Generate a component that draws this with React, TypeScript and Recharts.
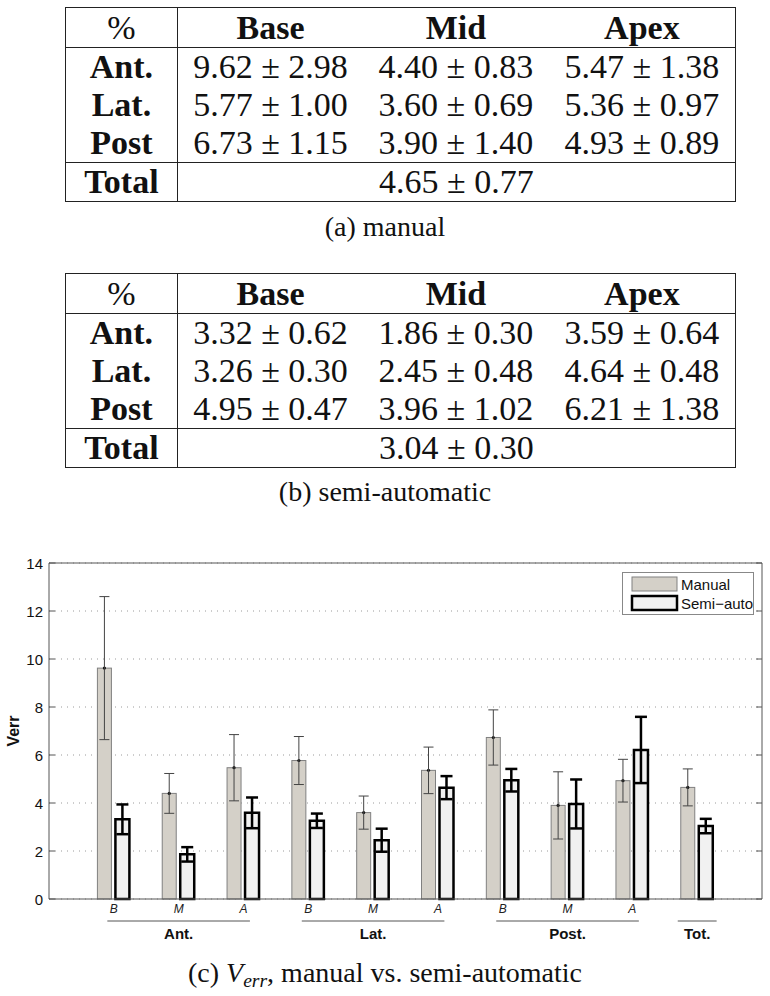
import React from 'react'
import { BarChart, Bar, XAxis, YAxis, CartesianGrid, ErrorBar, Legend } from 'recharts'

// values in chart order: Ant B/M/A, Lat B/M/A, Post B/M/A, Total
const categories = ['Ant. B', 'Ant. M', 'Ant. A', 'Lat. B', 'Lat. M', 'Lat. A', 'Post. B', 'Post. M', 'Post. A', 'Tot.']
const subLabels = ['B', 'M', 'A', 'B', 'M', 'A', 'B', 'M', 'A', '']
const groupLabels = ['Ant.', 'Lat.', 'Post.', 'Tot.']
const groupMiddle = [1, 4, 7, 9]
const groupSize = [3, 3, 3, 1]

const manualMean = [9.62, 4.40, 5.47, 5.77, 3.60, 5.36, 6.73, 3.90, 4.93, 4.65]
const manualSd = [2.98, 0.83, 1.38, 1.00, 0.69, 0.97, 1.15, 1.40, 0.89, 0.77]
const semiMean = [3.32, 1.86, 3.59, 3.26, 2.45, 4.64, 4.95, 3.96, 6.21, 3.04]
const semiSd = [0.62, 0.30, 0.64, 0.30, 0.48, 0.48, 0.47, 1.02, 1.38, 0.30]

const regions = ['Ant.', 'Lat.', 'Post']
const levels = ['Base', 'Mid', 'Apex']
const yTicks = [0, 2, 4, 6, 8, 10, 12, 14]

const SERIF = '"Liberation Serif", "Times New Roman", serif'
const SANS = '"Liberation Sans", Arial, sans-serif'

const CHART_W = 770
const CHART_H = 419
const MARGIN = { top: 22, right: 7, left: 0, bottom: 0 }
const Y_W = 49
const PLOT_W = CHART_W - MARGIN.left - MARGIN.right - Y_W - 1
const BAND = PLOT_W / (categories.length + 1)

const seriesStyle: Record<string, { fill: string; stroke: string; strokeWidth: number }> = {
  manual: { fill: '#d4d0c8', stroke: '#808080', strokeWidth: 1 },
  semi: { fill: '#f1f1f1', stroke: '#000', strokeWidth: 2.5 },
}

const data = categories.map((cat, i) => ({
  cat,
  manual: manualMean[i],
  manualErr: manualSd[i],
  semi: semiMean[i],
  semiErr: semiSd[i],
}))

const fmt = (m: number, s: number) => `${m.toFixed(2)} \u00B1 ${s.toFixed(2)}`

const border = '1.5px solid #222'

function StatsTable({ mean, sd, top }: { mean: number[]; sd: number[]; top: number }) {
  const cell: React.CSSProperties = { padding: 0, textAlign: 'center', lineHeight: 1 }
  return (
    <table
      style={{
        position: 'absolute', left: 65, top, width: 671, borderCollapse: 'collapse',
        border, fontFamily: SERIF, fontSize: 34, color: '#111',
      }}
    >
      <colgroup>
        <col style={{ width: 112 }} />
        <col style={{ width: 186 }} />
        <col style={{ width: 186 }} />
        <col style={{ width: 187 }} />
      </colgroup>
      <tbody>
        <tr style={{ height: 40, borderBottom: border }}>
          <td style={{ ...cell, borderRight: border }}>%</td>
          {levels.map(l => (
            <td key={l} style={{ ...cell, fontWeight: 'bold' }}>{l}</td>
          ))}
        </tr>
        {regions.map((r, ri) => (
          <tr key={r} style={{ height: ri === 2 ? 39 : 38 }}>
            <td style={{ ...cell, fontWeight: 'bold', borderRight: border }}>{r}</td>
            {levels.map((l, ci) => (
              <td key={l} style={cell}>{fmt(mean[ri * 3 + ci], sd[ri * 3 + ci])}</td>
            ))}
          </tr>
        ))}
        <tr style={{ height: 39, borderTop: border }}>
          <td style={{ ...cell, fontWeight: 'bold', borderRight: border }}>Total</td>
          <td colSpan={3} style={cell}>{fmt(mean[9], sd[9])}</td>
        </tr>
      </tbody>
    </table>
  )
}

function Caption({ top, children }: { top: number; children: React.ReactNode }) {
  return (
    <div
      style={{
        position: 'absolute', left: 0, top, width: 770, textAlign: 'center',
        fontFamily: SERIF, fontSize: 28, lineHeight: '32px', color: '#111',
      }}
    >
      {children}
    </div>
  )
}

const ManualShape = (p: any) => {
  const { x, y, width, height } = p
  const s = seriesStyle.manual
  return (
    <g>
      <rect x={x} y={y} width={width} height={height} fill={s.fill} stroke={s.stroke} strokeWidth={s.strokeWidth} />
      <circle cx={x + width / 2} cy={y} r={1.6} fill="#111" />
    </g>
  )
}

const LeftTick = (p: any) => {
  const { x, y, payload } = p
  const ax = x + 6
  return (
    <g>
      <line x1={ax} x2={ax + 6} y1={y} y2={y} stroke="#555" />
      <text x={x} y={y} textAnchor="end" dominantBaseline="central" fontSize={15} fill="#111">
        {payload.value}
      </text>
    </g>
  )
}

const RightTick = (p: any) => {
  const { x, y } = p
  return <line x1={x - 6} x2={x} y1={y} y2={y} stroke="#555" />
}

const CategoryTick = (p: any) => {
  const { x, y, index } = p
  const g = groupMiddle.indexOf(index)
  const half = g >= 0 ? (groupSize[g] === 1 ? BAND * 0.3 : BAND * 1.1) : 0
  return (
    <g>
      <text x={x} y={y + 14} textAnchor="middle" fontStyle="italic" fontSize={12} fill="#222">
        {subLabels[index]}
      </text>
      {g >= 0 && (
        <g>
          <line x1={x - half} x2={x + half} y1={y + 22} y2={y + 22} stroke="#555" />
          <text x={x} y={y + 40} textAnchor="middle" fontWeight="bold" fontSize={15} fill="#111">
            {groupLabels[g]}
          </text>
        </g>
      )}
    </g>
  )
}

const renderLegend = (props: any) => {
  const items = props.payload ?? []
  return (
    <div style={{ width: 132, height: 43, border: '1px solid #888', background: '#fff', boxSizing: 'border-box' }}>
      <svg width={130} height={41} style={{ display: 'block' }}>
        {items.map((it: any, i: number) => {
          const s = seriesStyle[it.dataKey] ?? seriesStyle.manual
          return (
            <g key={it.value}>
              <rect x={9} y={4 + i * 19} width={45} height={14} fill={s.fill} stroke={s.stroke} strokeWidth={s.strokeWidth} />
              <text x={58} y={11 + i * 19} dominantBaseline="central" fontSize={15} fill="#111" fontFamily={SANS}>
                {it.value}
              </text>
            </g>
          )
        })}
      </svg>
    </div>
  )
}

const yLabel = (p: any) => {
  const vb = p.viewBox
  const x = vb.x + 13
  const y = vb.y + vb.height / 2
  return (
    <text x={x} y={y} transform={`rotate(-90 ${x} ${y})`} textAnchor="middle" dominantBaseline="central"
      fontWeight="bold" fontSize={16} fill="#111">
      Verr
    </text>
  )
}

export default function App() {
  return (
    <div style={{ position: 'absolute', left: 0, top: 0, width: 770, height: 996, background: '#fff' }}>
      <StatsTable mean={manualMean} sd={manualSd} top={7} />
      <Caption top={211}>(a) manual</Caption>
      <StatsTable mean={semiMean} sd={semiSd} top={273} />
      <Caption top={476}>(b) semi-automatic</Caption>

      <div style={{ position: 'absolute', left: 0, top: 540, fontFamily: SANS }}>
        <BarChart width={CHART_W} height={CHART_H} data={data} margin={MARGIN} barGap={4}>
          <CartesianGrid vertical={false} strokeDasharray="1 5" stroke="#9a9a9a" />
          <XAxis
            dataKey="cat"
            interval={0}
            height={60}
            padding={{ left: BAND / 2, right: BAND / 2 }}
            tickLine={false}
            tickSize={0}
            tickMargin={0}
            axisLine={{ stroke: '#555' }}
            tick={(p: any) => <CategoryTick {...p} />}
          />
          <XAxis xAxisId="t" orientation="top" dataKey="cat" height={1} tick={false} tickLine={false} axisLine={{ stroke: '#555' }} />
          <YAxis
            domain={[0, 14]}
            ticks={yTicks}
            width={Y_W}
            tickLine={false}
            tickSize={0}
            tickMargin={6}
            axisLine={{ stroke: '#555' }}
            tick={(p: any) => <LeftTick {...p} />}
            label={yLabel}
          />
          <YAxis
            yAxisId="r"
            orientation="right"
            type="number"
            domain={[0, 14]}
            allowDataOverflow
            ticks={yTicks}
            width={1}
            tickLine={false}
            tickSize={0}
            tickMargin={0}
            axisLine={{ stroke: '#555' }}
            tick={(p: any) => <RightTick {...p} />}
          />
          <Legend
            content={renderLegend}
            layout="horizontal"
            verticalAlign="middle"
            align="center"
            wrapperStyle={{ left: 622, top: 32, width: 132, height: 43 }}
          />
          <Bar
            dataKey="manual"
            name="Manual"
            barSize={14}
            fill={seriesStyle.manual.fill}
            stroke={seriesStyle.manual.stroke}
            shape={ManualShape}
            isAnimationActive={false}
          >
            <ErrorBar dataKey="manualErr" width={5} stroke="#444" strokeWidth={1} isAnimationActive={false} />
          </Bar>
          <Bar
            dataKey="semi"
            name={'Semi\u2212auto'}
            barSize={14}
            fill={seriesStyle.semi.fill}
            stroke={seriesStyle.semi.stroke}
            strokeWidth={seriesStyle.semi.strokeWidth}
            isAnimationActive={false}
          >
            <ErrorBar dataKey="semiErr" width={6} stroke="#000" strokeWidth={2.5} isAnimationActive={false} />
          </Bar>
        </BarChart>
      </div>

      <Caption top={957}>
        (c) <i>V<sub style={{ fontSize: '0.7em', verticalAlign: '-0.25em' }}>err</sub></i>, manual vs. semi-automatic
      </Caption>
    </div>
  )
}
